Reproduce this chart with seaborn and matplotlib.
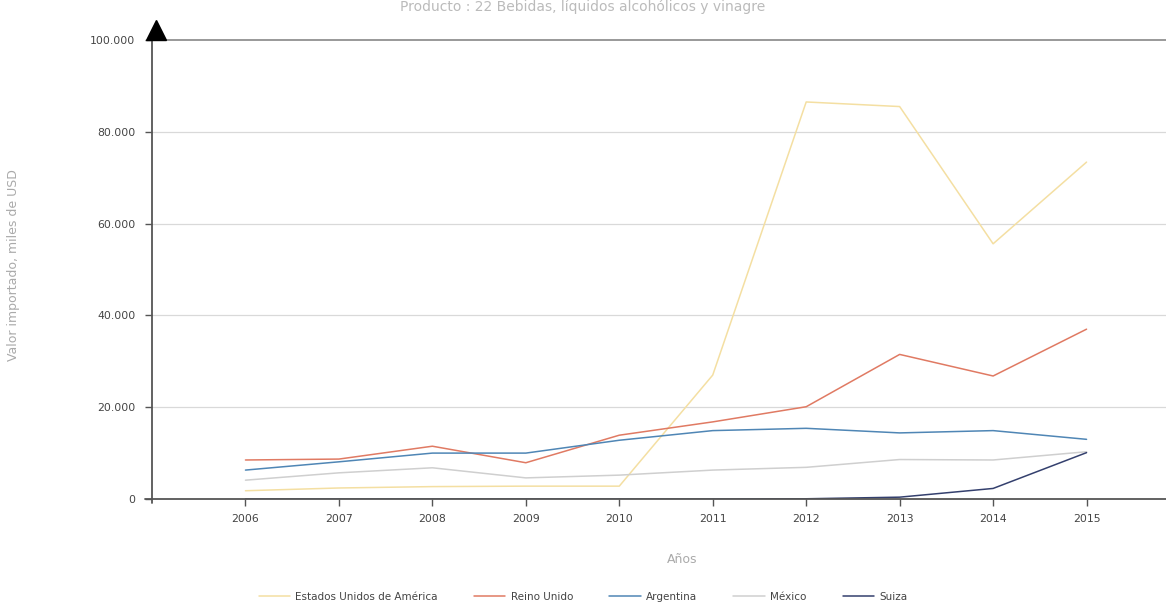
import pandas as pd
import matplotlib.pyplot as plt
import matplotlib.ticker as mticker
import seaborn as sns

years = [2006, 2007, 2008, 2009, 2010, 2011, 2012, 2013, 2014, 2015]
usa = [1800, 2400, 2700, 2800, 2800, 27000, 86500, 85500, 55600, 73400]
reino_unido = [8500, 8700, 11500, 7900, 13900, 16800, 20100, 31500, 26800, 37000]
argentina = [6300, 8100, 10000, 10000, 12800, 14900, 15400, 14400, 14900, 13000]
mexico = [4100, 5700, 6800, 4600, 5200, 6300, 6900, 8600, 8500, 10300]
suiza = [0, 0, 0, 0, 0, 0, 50, 400, 2300, 10100]

paises = ['Estados Unidos de América', 'Reino Unido', 'Argentina', 'México', 'Suiza']
colores = ['#f4dfa2', '#e07a63', '#4f86b5', '#cfcfcf', '#34406e']

df = pd.DataFrame({'Año': years * 5,
                   'Valor': usa + reino_unido + argentina + mexico + suiza,
                   'País': [p for p in paises for _ in years]})

sns.set_style('white')
plt.rcParams['font.family'] = ['DejaVu Sans']

fig = plt.figure(figsize=(11.66, 6.04), dpi=100)
ax = fig.add_axes([152 / 1166, 105 / 604, 1014 / 1166, 459 / 604])

# gridlines
for v in [20000, 40000, 60000, 80000]:
    ax.axhline(v, color='#d9d9d9', lw=0.9, zorder=0)
ax.axhline(100000, color='#888888', lw=1.2, zorder=0, clip_on=False)

sns.lineplot(data=df, x='Año', y='Valor', hue='País', palette=colores,
             hue_order=paises, linewidth=1.1, ax=ax, zorder=3)

ax.set_xlim(2005.0, 2015.85)
ax.set_ylim(0, 100000)
for s in ax.spines.values():
    s.set_visible(False)

# axis lines, y axis with arrow on top
ax.plot([-0.007, 1], [0, 0], transform=ax.transAxes, color='#555555', lw=1.3,
        clip_on=False, zorder=4)
ax.plot([0, 0], [-0.008, 1.01], transform=ax.transAxes, color='#555555', lw=1.3,
        clip_on=False, zorder=4)
ax.plot([0.004], [1.022], transform=ax.transAxes, marker='^', markersize=15,
        color='black', clip_on=False, zorder=5)

ax.set_xticks(years)
ax.set_yticks([0, 20000, 40000, 60000, 80000, 100000])
ax.yaxis.set_major_formatter(mticker.FuncFormatter(
    lambda v, p: f'{int(v):,}'.replace(',', '.')))
ax.tick_params(axis='both', which='major', direction='out', length=5, width=1,
               color='#555555', labelsize=7.8, labelcolor='#444444', pad=6)
ax.tick_params(axis='x', bottom=True)
ax.tick_params(axis='y', left=True, pad=7)

ax.set_xlabel('Años', color='#aaaaaa', fontsize=9)
ax.xaxis.set_label_coords(0.523, -0.118)
ax.set_ylabel('Valor importado, miles de USD', color='#aaaaaa', fontsize=9)
ax.yaxis.set_label_coords(-0.13, 0.51)

fig.text(0.5, 1.0, 'Producto : 22 Bebidas, líquidos alcohólicos y vinagre',
         ha='center', va='top', fontsize=10, color='#bbbbbb')

sns.move_legend(ax, 'center', bbox_to_anchor=(0.5, 1 - 597 / 604),
                bbox_transform=fig.transFigure, ncol=5,
                frameon=False, title=None, fontsize=7.5, handlelength=3,
                columnspacing=3.5, handletextpad=0.5)
for t in ax.get_legend().get_texts():
    t.set_color('#444444')

fig.savefig('out.png', dpi=100)
